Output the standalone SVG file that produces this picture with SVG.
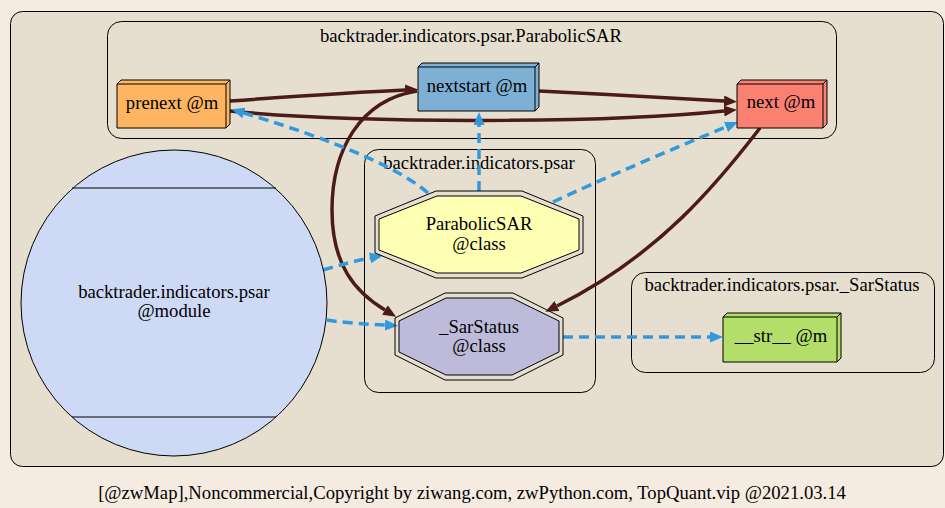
<svg xmlns="http://www.w3.org/2000/svg" width="945" height="508" viewBox="0 0 945 508">
<style>
text{font-family:"Liberation Serif","Times New Roman",serif;font-size:18.67px;fill:#000;text-anchor:middle}
.cl{fill:#e6dfd0;stroke:#000;stroke-width:1}
.nd{stroke:#000;stroke-width:1}
.nl{fill:none;stroke:#000;stroke-width:1}
.call{fill:none;stroke:#4d1b17;stroke-width:3.5}
.use{fill:none;stroke:#3399dd;stroke-width:3.5;stroke-dasharray:10,6}
</style>
<defs>
<marker id="ab" markerWidth="13" markerHeight="11" refX="0" refY="5.5" orient="auto" markerUnits="userSpaceOnUse"><path d="M0,0 L13,5.5 L0,11 Z" fill="#4d1b17"/></marker>
<marker id="au" markerWidth="13" markerHeight="11" refX="0" refY="5.5" orient="auto" markerUnits="userSpaceOnUse"><path d="M0,0 L13,5.5 L0,11 Z" fill="#3399dd"/></marker>
</defs>
<rect x="0" y="0" width="945" height="508" fill="#f6ebe1"/>
<g id="clusters">
<rect class="cl" x="10.5" y="11.5" width="933" height="455" rx="12"/>
<rect class="cl" x="107.5" y="21.5" width="729" height="117" rx="14"/>
<text x="471" y="42">backtrader.indicators.psar.ParabolicSAR</text>
<rect class="cl" x="364.5" y="149.5" width="231" height="243" rx="14"/>
<text x="479" y="169">backtrader.indicators.psar</text>
<rect class="cl" x="631.5" y="272.5" width="303" height="100" rx="14"/>
<text x="782" y="291">backtrader.indicators.psar._SarStatus</text>
</g>
<g id="edges">
<path class="call" d="M230,101 C300,96 360,92 405,90" marker-end="url(#ab)"/>
<path class="call" d="M539,91 C600,94 670,98 724,101" marker-end="url(#ab)"/>
<path class="call" d="M230,111 C350,123 600,124 724,111" marker-end="url(#ab)"/>
<path class="call" d="M417,91 C360,100 332,150 332,210 C332,265 355,292 385,310" marker-end="url(#ab)"/>
<path class="call" d="M760,128 C720,180 660,255 557,306" marker-end="url(#ab)"/>
<path class="use" d="M428,193 C390,160 300,130 244,113" marker-end="url(#au)"/>
<path class="use" d="M479,191 L479,125" marker-end="url(#au)"/>
<path class="use" d="M553,202 C600,180 670,150 726,127" marker-end="url(#au)"/>
<path class="use" d="M323,270 C340,265 355,261 370,258" marker-end="url(#au)"/>
<path class="use" d="M327,320 C345,323 365,324 385,325" marker-end="url(#au)"/>
<path class="use" d="M563,337 L710,337" marker-end="url(#au)"/>
</g>
<g id="prenext">
<path class="nd" fill="#feb562" d="M230,80 L121,80 L117,84 L117,128 L226,128 L230,124 Z"/>
<path class="nl" d="M226,128 L226,84 M117,84 L226,84 M226,84 L230,80"/>
<text x="172" y="109">prenext @m</text>
</g>
<g id="nextstart">
<path class="nd" fill="#7eb0d5" d="M539,63 L422,63 L418,67 L418,111 L535,111 L539,107 Z"/>
<path class="nl" d="M535,111 L535,67 M418,67 L535,67 M535,67 L539,63"/>
<text x="477" y="92">nextstart @m</text>
</g>
<g id="next">
<path class="nd" fill="#fa8072" d="M827,80 L741,80 L737,84 L737,128 L823,128 L827,124 Z"/>
<path class="nl" d="M823,128 L823,84 M737,84 L823,84 M823,84 L827,80"/>
<text x="781" y="108">next @m</text>
</g>
<g id="ParabolicSAR">
<polygon class="nl" points="522,191 583,216 583,253 522,278 436,278 375,253 375,216 436,191"/>
<polygon class="nd" fill="#ffffb3" points="521,196 579,219 579,250 521,273 437,273 379,250 379,219 437,196"/>
<text x="479" y="230">ParabolicSAR</text>
<text x="479" y="250">@class</text>
</g>
<g id="SarStatus">
<polygon class="nl" points="513,293 563,318 563,355 513,380 445,380 395,355 395,318 445,293"/>
<polygon class="nd" fill="#bebada" points="512,298 559,321 559,352 512,375 446,375 399,352 399,321 446,298"/>
<text x="479" y="333">_SarStatus</text>
<text x="479" y="352">@class</text>
</g>
<g id="str">
<path class="nd" fill="#b3de69" d="M841,313 L727,313 L723,317 L723,362 L837,362 L841,358 Z"/>
<path class="nl" d="M837,362 L837,317 M723,317 L837,317 M837,317 L841,313"/>
<text x="781" y="342">__str__ @m</text>
</g>
<g id="module">
<circle class="nd" fill="#cdd9f5" cx="174" cy="303" r="153"/>
<path class="nl" d="M72,188 L276,188 M72,417 L276,417"/>
<text x="174" y="298">backtrader.indicators.psar</text>
<text x="174" y="317">@module</text>
</g>
<text x="472" y="499">[@zwMap],Noncommercial,Copyright by ziwang.com, zwPython.com, TopQuant.vip @2021.03.14</text>
</svg>
